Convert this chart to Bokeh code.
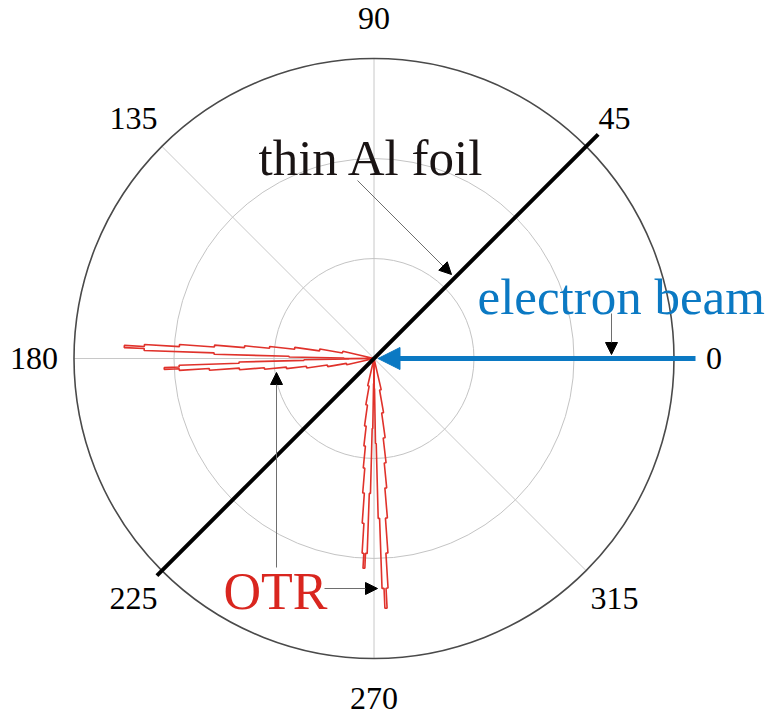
import numpy as np
from bokeh.plotting import figure
from bokeh.models import Arrow, NormalHead
from bokeh.core.properties import value
from bokeh.embed import file_html
from bokeh.resources import INLINE

# Polar grid: ring radii (arbitrary intensity units) and spoke angles
ring_radii = [1.0, 2.0, 3.0]
tick_angles = [0, 45, 90, 135, 180, 225, 270, 315]
tick_labels = ["0", "45", "90", "135", "180", "225", "270", "315"]

# OTR angular distribution, binned: bin edges as angular offset from the lobe axis (deg)
offset_edges = [0, 0.5, 1.0, 1.5, 2.0, 2.5, 3.0, 3.5, 4.1, 4.8, 5.6, 6.6, 8.0, 10.0, 13.0]
# intensity per bin for the stronger and weaker half of each cone
near_side = [0.08, 0.3, 0.85, 1.6, 2.3, 2.5, 2.3, 1.95, 1.6, 1.3, 1.05, 0.8, 0.55, 0.32]
far_side = [0.07, 0.25, 0.7, 1.35, 1.95, 2.1, 1.95, 1.65, 1.35, 1.1, 0.88, 0.68, 0.47, 0.28]

# forward OTR along the beam (180 deg), backward OTR in the specular direction (270 deg)
forward_axis = 180
backward_axis = 270
foil_angle = 45
foil_extent = (-3.07, 3.17)
beam_start = 3.215

BLUE = "#0b79c3"
RED = "#e0322b"
SERIF = value("Liberation Serif")

p = figure(width=767, height=720, x_range=(-3.735, 3.935), y_range=(-3.62, 3.58),
           output_backend="svg", toolbar_location=None, min_border=0)
p.axis.visible = False
p.grid.visible = False
p.outline_line_color = None
p.background_fill_color = "white"

# spokes
th = np.radians(tick_angles)
p.segment(x0=[0] * len(th), y0=[0] * len(th), x1=3.0 * np.cos(th), y1=3.0 * np.sin(th),
          line_color="#c8c8c8", line_width=1)
# rings
p.circle(x=[0, 0], y=[0, 0], radius=ring_radii[:2], fill_color=None,
         line_color="#c4c4c4", line_width=1)
p.circle(x=[0], y=[0], radius=[ring_radii[2]], fill_color=None,
         line_color="#4a4a4a", line_width=1.6)


def lobe(axis_deg, sign, radii):
    xs, ys = [0.0], [0.0]
    for i, r in enumerate(radii):
        a0 = np.radians(axis_deg + sign * offset_edges[i])
        a1 = np.radians(axis_deg + sign * offset_edges[i + 1])
        xs += [r * np.cos(a0), r * np.cos(a1)]
        ys += [r * np.sin(a0), r * np.sin(a1)]
    xs.append(0.0)
    ys.append(0.0)
    return xs, ys


for axis_deg, sign, radii in [(forward_axis, -1, near_side), (forward_axis, 1, far_side),
                              (backward_axis, 1, near_side), (backward_axis, -1, far_side)]:
    lx, ly = lobe(axis_deg, sign, radii)
    p.line(lx, ly, line_color=RED, line_width=1.6)

# aluminium foil at 45 deg
fa = np.radians(foil_angle)
p.line([foil_extent[0] * np.cos(fa), foil_extent[1] * np.cos(fa)],
       [foil_extent[0] * np.sin(fa), foil_extent[1] * np.sin(fa)],
       line_color="black", line_width=4)

# electron beam
p.add_layout(Arrow(x_start=beam_start, y_start=0, x_end=0.04, y_end=0,
                   line_color=BLUE, line_width=5,
                   end=NormalHead(size=22, fill_color=BLUE, line_color=BLUE)))

# pointers
pointers = [(-0.165, 1.78, 0.775, 0.84), (2.375, 0.45, 2.375, 0.04),
            (-0.975, -2.09, -0.975, -0.14), (-0.495, -2.30, 0.035, -2.30)]
for x0, y0, x1, y1 in pointers:
    p.add_layout(Arrow(x_start=x0, y_start=y0, x_end=x1, y_end=y1,
                       line_color="#6e6e6e", line_width=1,
                       end=NormalHead(size=12, fill_color="black", line_color="black")))

# angle labels
p.text(x=3.4 * np.cos(th), y=3.4 * np.sin(th), text=tick_labels, text_font=SERIF,
       text_font_size="32px", text_align="center", text_baseline="middle", text_color="black")

p.text(x=[-1.155], y=[2.01], text=["thin Al foil"], text_font=SERIF, text_font_size="51px",
       text_align="left", text_baseline="alphabetic", text_color="#1a1414")
p.text(x=[1.035], y=[0.62], text=["electron beam"], text_font=SERIF, text_font_size="51px",
       text_align="left", text_baseline="alphabetic", text_color=BLUE)
p.text(x=[-1.505], y=[-2.33], text=["OTR"], text_font=SERIF, text_font_size="52px",
       text_align="left", text_baseline="alphabetic", text_color="#d9261f")

open("out.html", "w").write(file_html(p, INLINE))
